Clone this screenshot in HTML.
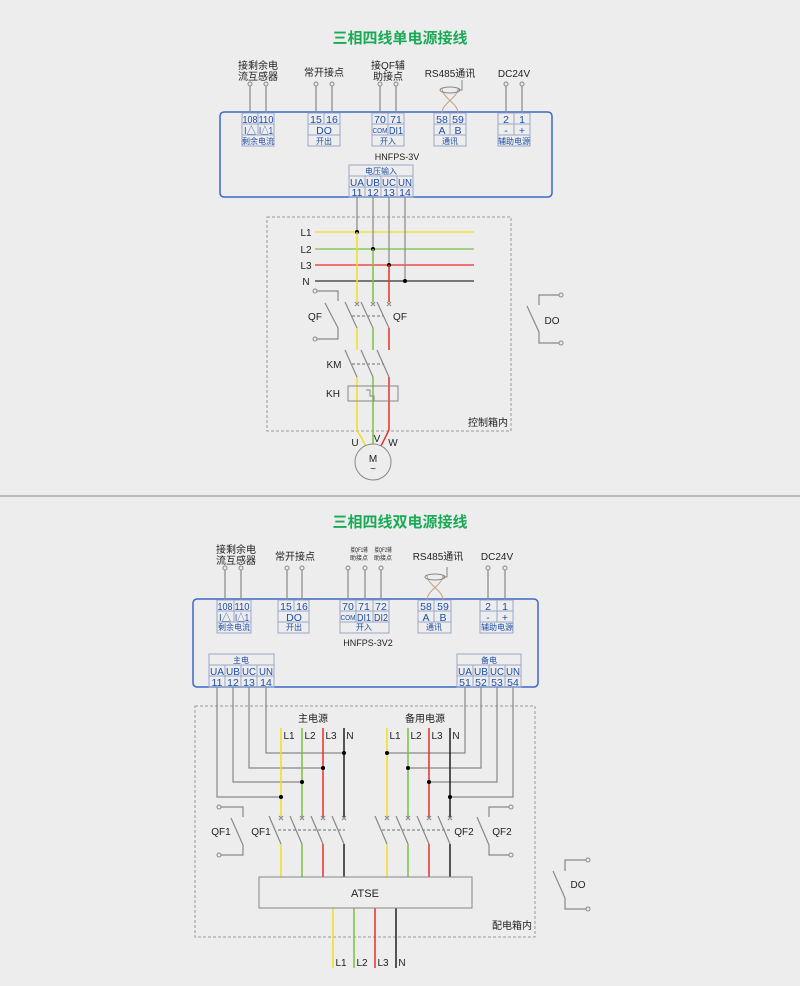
<!DOCTYPE html>
<html><head><meta charset="utf-8"><style>
body{margin:0;background:#ededed}
svg{display:block}
text{font-family:"Liberation Sans","Noto Sans CJK SC",sans-serif}
.b{fill:#1f4fa8;font-size:10.5px;text-anchor:middle}
.s{fill:#1f4fa8;font-size:8px;text-anchor:middle}
.k{fill:#222;font-size:10px;text-anchor:middle}
.t{fill:none;stroke:#9aa8c8;stroke-width:1}
.g{fill:none;stroke:#888;stroke-width:1.2}
.p{fill:#ededed;stroke:#888;stroke-width:1}
</style></head><body>
<svg width="800" height="986" viewBox="0 0 800 986" xmlns="http://www.w3.org/2000/svg">
<rect width="800" height="986" fill="#ededed"/>
<line x1="0" y1="496" x2="800" y2="496" stroke="#aaa" stroke-width="1.5"/>
<text x="400" y="43" fill="#1aaa55" font-size="15" font-weight="bold" text-anchor="middle">三相四线单电源接线</text>
<text x="400" y="527" fill="#1aaa55" font-size="15" font-weight="bold" text-anchor="middle">三相四线双电源接线</text>

<!-- ===== TOP ===== -->
<rect x="220" y="112" width="332" height="85" rx="4" fill="none" stroke="#3a68c8" stroke-width="1.5"/>
<g class="k">
<text x="258" y="69">接剩余电</text><text x="258" y="80">流互感器</text>
<text x="324" y="76">常开接点</text>
<text x="388" y="69">接QF辅</text><text x="388" y="80">助接点</text>
<text x="450" y="77">RS485通讯</text>
<text x="514" y="77">DC24V</text>
</g>
<g class="g">
<path d="M250 86V113M266 86V113M316 86V113M332 86V113M380 86V113M396 86V113M506 86V113M522 86V113"/>
</g>
<g class="p"><circle cx="250" cy="84" r="2"/><circle cx="266" cy="84" r="2"/><circle cx="316" cy="84" r="2"/><circle cx="332" cy="84" r="2"/><circle cx="380" cy="84" r="2"/><circle cx="396" cy="84" r="2"/><circle cx="506" cy="84" r="2"/><circle cx="522" cy="84" r="2"/></g>
<g fill="none" stroke="#c8a080" stroke-width="1"><path d="M442 113C442 103 458 98 458 88M458 113C458 103 442 98 442 88"/><ellipse cx="450" cy="90" rx="10" ry="3" stroke="#888"/><path d="M458 90H462V80" stroke="#888"/></g>
<g class="t">
<rect x="242" y="113" width="32" height="33"/><path d="M242 124H274M242 135H274M258 113V135"/>
<rect x="308" y="113" width="32" height="33"/><path d="M308 124H340M308 135H340M324 113V124"/>
<rect x="372" y="113" width="32" height="33"/><path d="M372 124H404M372 135H404M388 113V135"/>
<rect x="434" y="113" width="32" height="33"/><path d="M434 124H466M434 135H466M450 113V135"/>
<rect x="498" y="113" width="32" height="33"/><path d="M498 124H530M498 135H530M514 113V135"/>
<rect x="349" y="165" width="64" height="32"/><path d="M349 176H413M349 187H413M365 176V197M381 176V197M397 176V197"/>
</g>
<g class="b">
<text x="250" y="123" textLength="15" lengthAdjust="spacingAndGlyphs">108</text><text x="266" y="123" textLength="15" lengthAdjust="spacingAndGlyphs">110</text><text x="250" y="134" textLength="12" lengthAdjust="spacingAndGlyphs">I△</text><text x="266" y="134" textLength="14" lengthAdjust="spacingAndGlyphs">I△1</text>
<text x="316" y="123">15</text><text x="332" y="123">16</text><text x="324" y="134">DO</text>
<text x="380" y="123">70</text><text x="396" y="123">71</text><text x="380" y="133" style="font-size:7px" textLength="15" lengthAdjust="spacingAndGlyphs">COM</text><text x="396" y="134" textLength="14" lengthAdjust="spacingAndGlyphs">DI1</text>
<text x="442" y="123">58</text><text x="458" y="123">59</text><text x="442" y="134">A</text><text x="458" y="134">B</text>
<text x="506" y="123">2</text><text x="522" y="123">1</text><text x="506" y="134">-</text><text x="522" y="134">+</text>
<text x="357" y="186" textLength="14" lengthAdjust="spacingAndGlyphs">UA</text><text x="373" y="186" textLength="14" lengthAdjust="spacingAndGlyphs">UB</text><text x="389" y="186" textLength="14" lengthAdjust="spacingAndGlyphs">UC</text><text x="405" y="186" textLength="14" lengthAdjust="spacingAndGlyphs">UN</text>
<text x="357" y="196">11</text><text x="373" y="196">12</text><text x="389" y="196">13</text><text x="405" y="196">14</text>
</g>
<g class="s"><text x="258" y="144">剩余电流</text><text x="324" y="144">开出</text><text x="388" y="144">开入</text><text x="450" y="144">通讯</text><text x="514" y="144">辅助电源</text><text x="381" y="174">电压输入</text></g>
<text x="397" y="160" class="k" style="font-size:9px">HNFPS-3V</text>

<rect x="267" y="217" width="244" height="214" fill="none" stroke="#999" stroke-dasharray="3,2"/>
<text x="488" y="426" class="k">控制箱内</text>
<g class="k"><text x="306" y="236">L1</text><text x="306" y="253">L2</text><text x="306" y="269">L3</text><text x="306" y="285">N</text></g>
<path d="M315 232H474" stroke="#f0e020" stroke-width="1.3"/>
<path d="M315 249H474" stroke="#7ac143" stroke-width="1.3"/>
<path d="M315 265H474" stroke="#e8302a" stroke-width="1.3"/>
<path d="M315 281H474" stroke="#333" stroke-width="1.3"/>
<path d="M357 197V232M373 197V249M389 197V265M405 197V281" class="g"/>
<g fill="#000"><circle cx="357" cy="232" r="2"/><circle cx="373" cy="249" r="2"/><circle cx="389" cy="265" r="2"/><circle cx="405" cy="281" r="2"/></g>
<g stroke-width="1.5" fill="none">
<path d="M357 232V302M357 328V350M357 377V430L366 446" stroke="#f0e020"/>
<path d="M373 249V302M373 328V350M373 377V444" stroke="#7ac143"/>
<path d="M389 265V302M389 328V350M389 377V430L381 446" stroke="#e8302a"/>
</g>
<g class="g" stroke-width="1">
<path d="M345 302L357 328M361 302L373 328M377 302L389 328M345 350L357 377M361 350L373 377M377 350L389 377"/>
<path d="M355 302l4 4M359 302l-4 4M371 302l4 4M375 302l-4 4M387 302l4 4M391 302l-4 4"/>
<path d="M352 316H384M352 364H384" stroke-dasharray="3,2"/>
<path d="M317 291H338V301M325 303L338 328V339H317"/>
<path d="M560 295H539V305M527 306L539 332V343H560"/>
</g>
<g class="p"><circle cx="315" cy="291" r="2"/><circle cx="315" cy="339" r="2"/><circle cx="561" cy="295" r="2"/><circle cx="561" cy="343" r="2"/></g>
<g class="k"><text x="315" y="320">QF</text><text x="400" y="320">QF</text><text x="334" y="368">KM</text><text x="333" y="397">KH</text><text x="552" y="324">DO</text>
<text x="355" y="446">U</text><text x="377" y="442">V</text><text x="393" y="446">W</text></g>
<rect x="348" y="386" width="50" height="15" fill="none" stroke="#888"/>
<path d="M366 390H370V396H374V401" fill="none" stroke="#888"/>
<circle cx="373" cy="462" r="18" fill="#ededed" stroke="#888"/>
<text x="373" y="462" class="k">M</text><text x="373" y="472" class="k">~</text>

<!-- ===== BOTTOM ===== -->
<rect x="193" y="599" width="345" height="88" rx="4" fill="none" stroke="#3a68c8" stroke-width="1.5"/>
<g class="k">
<text x="236" y="553">接剩余电</text><text x="236" y="564">流互感器</text>
<text x="295" y="560">常开接点</text>
<text x="438" y="560">RS485通讯</text>
<text x="497" y="560">DC24V</text>
</g>
<g fill="#222" text-anchor="middle" style="font-size:6px">
<text x="359" y="552" textLength="17" lengthAdjust="spacingAndGlyphs">接QF1辅</text><text x="359" y="560">助接点</text>
<text x="383" y="552" textLength="17" lengthAdjust="spacingAndGlyphs">接QF2辅</text><text x="383" y="560">助接点</text></g>
<path d="M225 570V600M241 570V600M287 570V600M302 570V600M348 570V600M365 570V600M381 570V600M488 570V600M505 570V600" class="g"/>
<g class="p"><circle cx="225" cy="568" r="2"/><circle cx="241" cy="568" r="2"/><circle cx="287" cy="568" r="2"/><circle cx="302" cy="568" r="2"/><circle cx="348" cy="568" r="2"/><circle cx="365" cy="568" r="2"/><circle cx="381" cy="568" r="2"/><circle cx="488" cy="568" r="2"/><circle cx="505" cy="568" r="2"/></g>
<g fill="none" stroke="#c8a080" stroke-width="1"><path d="M427 600C427 590 443 585 443 575M443 600C443 590 427 585 427 575"/><ellipse cx="435" cy="577" rx="10" ry="3" stroke="#888"/><path d="M443 577H447V567" stroke="#888"/></g>
<g class="t">
<rect x="217" y="600" width="34" height="33"/><path d="M217 611H251M217 622H251M234 600V622"/>
<rect x="278" y="600" width="31" height="33"/><path d="M278 611H309M278 622H309M294 600V611"/>
<rect x="340" y="600" width="49" height="33"/><path d="M340 611H389M340 622H389M356 600V622M373 600V622"/>
<rect x="418" y="600" width="33" height="33"/><path d="M418 611H451M418 622H451M434 600V622"/>
<rect x="480" y="600" width="33" height="33"/><path d="M480 611H513M480 622H513M497 600V622"/>
<rect x="209" y="654" width="65" height="33"/><path d="M209 665H274M209 676H274M225 665V687M241 665V687M257 665V687"/>
<rect x="457" y="654" width="64" height="33"/><path d="M457 665H521M457 676H521M473 665V687M489 665V687M505 665V687"/>
</g>
<g class="b">
<text x="225" y="610" textLength="15" lengthAdjust="spacingAndGlyphs">108</text><text x="242" y="610" textLength="15" lengthAdjust="spacingAndGlyphs">110</text><text x="225" y="621" textLength="12" lengthAdjust="spacingAndGlyphs">I△</text><text x="242" y="621" textLength="14" lengthAdjust="spacingAndGlyphs">I△1</text>
<text x="286" y="610">15</text><text x="302" y="610">16</text><text x="294" y="621">DO</text>
<text x="348" y="610">70</text><text x="364" y="610">71</text><text x="381" y="610">72</text><text x="348" y="620" style="font-size:7px" textLength="15" lengthAdjust="spacingAndGlyphs">COM</text><text x="364" y="621" textLength="14" lengthAdjust="spacingAndGlyphs">DI1</text><text x="381" y="621" textLength="14" lengthAdjust="spacingAndGlyphs">DI2</text>
<text x="426" y="610">58</text><text x="443" y="610">59</text><text x="426" y="621">A</text><text x="443" y="621">B</text>
<text x="488" y="610">2</text><text x="505" y="610">1</text><text x="488" y="621">-</text><text x="505" y="621">+</text>
<text x="217" y="675" textLength="14" lengthAdjust="spacingAndGlyphs">UA</text><text x="233" y="675" textLength="14" lengthAdjust="spacingAndGlyphs">UB</text><text x="249" y="675" textLength="14" lengthAdjust="spacingAndGlyphs">UC</text><text x="266" y="675" textLength="14" lengthAdjust="spacingAndGlyphs">UN</text>
<text x="217" y="686">11</text><text x="233" y="686">12</text><text x="249" y="686">13</text><text x="266" y="686">14</text>
<text x="465" y="675" textLength="14" lengthAdjust="spacingAndGlyphs">UA</text><text x="481" y="675" textLength="14" lengthAdjust="spacingAndGlyphs">UB</text><text x="497" y="675" textLength="14" lengthAdjust="spacingAndGlyphs">UC</text><text x="513" y="675" textLength="14" lengthAdjust="spacingAndGlyphs">UN</text>
<text x="465" y="686">51</text><text x="481" y="686">52</text><text x="497" y="686">53</text><text x="513" y="686">54</text>
</g>
<g class="s"><text x="234" y="630">剩余电流</text><text x="294" y="630">开出</text><text x="364" y="630">开入</text><text x="434" y="630">通讯</text><text x="497" y="630">辅助电源</text><text x="241" y="663">主电</text><text x="489" y="663">备电</text></g>
<text x="368" y="646" class="k" style="font-size:9px">HNFPS-3V2</text>

<rect x="195" y="706" width="340" height="231" fill="none" stroke="#999" stroke-dasharray="3,2"/>
<text x="512" y="929" class="k">配电箱内</text>
<g class="k"><text x="313" y="722">主电源</text><text x="425" y="722">备用电源</text></g>
<path d="M217 687V797H281M233 687V782H302M249 687V768H323M266 687V753H344M465 687V753H387M481 687V768H408M497 687V782H429M513 687V797H450" class="g"/>
<g stroke-width="1.5" fill="none">
<path d="M281 728V818M281 844V877M387 728V818M387 844V877M333 908V968" stroke="#f0e020"/>
<path d="M302 728V818M302 844V877M408 728V818M408 844V877M354 908V968" stroke="#7ac143"/>
<path d="M323 728V818M323 844V877M429 728V818M429 844V877M375 908V968" stroke="#e8302a"/>
<path d="M344 728V818M344 844V877M450 728V818M450 844V877M396 908V968" stroke="#222"/>
</g>
<g fill="#000"><circle cx="281" cy="797" r="2"/><circle cx="302" cy="782" r="2"/><circle cx="323" cy="768" r="2"/><circle cx="344" cy="753" r="2"/><circle cx="387" cy="753" r="2"/><circle cx="408" cy="768" r="2"/><circle cx="429" cy="782" r="2"/><circle cx="450" cy="797" r="2"/></g>
<g class="k">
<text x="289" y="739">L1</text><text x="310" y="739">L2</text><text x="331" y="739">L3</text><text x="350" y="739">N</text>
<text x="395" y="739">L1</text><text x="416" y="739">L2</text><text x="437" y="739">L3</text><text x="456" y="739">N</text>
<text x="341" y="966">L1</text><text x="362" y="966">L2</text><text x="383" y="966">L3</text><text x="402" y="966">N</text>
<text x="221" y="835">QF1</text><text x="261" y="835">QF1</text><text x="464" y="835">QF2</text><text x="502" y="835">QF2</text>
<text x="578" y="888">DO</text>
</g>
<g class="g" stroke-width="1">
<path d="M269 816L281 844M290 816L302 844M311 816L323 844M332 816L344 844M375 816L387 844M396 816L408 844M417 816L429 844M438 816L450 844"/>
<path d="M279 816l4 4M283 816l-4 4M300 816l4 4M304 816l-4 4M321 816l4 4M325 816l-4 4M342 816l4 4M346 816l-4 4M385 816l4 4M389 816l-4 4M406 816l4 4M410 816l-4 4M427 816l4 4M431 816l-4 4M448 816l4 4M452 816l-4 4"/>
<path d="M278 830H345M382 830H450" stroke-dasharray="3,2"/>
<path d="M221 807H243V817M231 818L243 845V855H221"/>
<path d="M509 807H489V817M477 817L489 845V855H509"/>
<path d="M586 860H565V871M553 871L565 898V909H586"/>
</g>
<g class="p"><circle cx="219" cy="807" r="2"/><circle cx="219" cy="855" r="2"/><circle cx="511" cy="807" r="2"/><circle cx="511" cy="855" r="2"/><circle cx="588" cy="860" r="2"/><circle cx="588" cy="909" r="2"/></g>
<rect x="259" y="877" width="213" height="31" fill="#ededed" stroke="#888"/>
<text x="365" y="897" class="k" style="font-size:11px">ATSE</text>
</svg>
</body></html>
